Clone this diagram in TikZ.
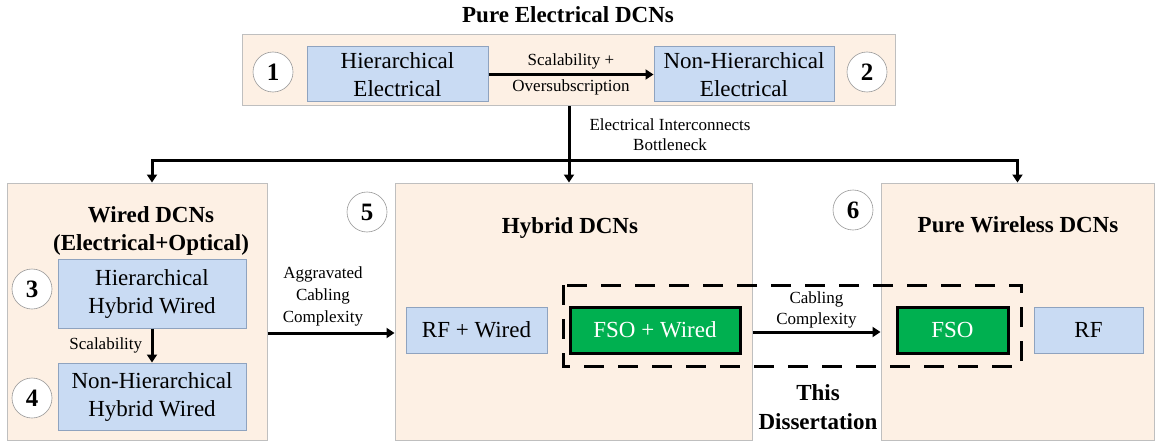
\documentclass[tikz,border=0pt]{standalone}
\usepackage{fontspec}
\setmainfont{Liberation Serif}
\usepackage{xcolor}
\usepackage{tikz}
\usetikzlibrary{arrows.meta,positioning,calc}
\definecolor{panelfill}{HTML}{FDF0E4}
\definecolor{panelline}{HTML}{BFBFBF}
\definecolor{boxfill}{HTML}{C9DBF3}
\definecolor{boxline}{HTML}{8FA3BF}
\definecolor{fsogreen}{HTML}{00B050}
\tikzset{
  dcn panel/.style={rectangle,draw=panelline,fill=panelfill,line width=1pt,inner sep=0pt},
  dcn box/.style={rectangle,draw=boxline,fill=boxfill,line width=1pt,inner sep=0pt,align=center,font=\fontsize{23}{28}\selectfont},
  dcn fso/.style={dcn box,draw=black,fill=fsogreen,line width=3pt,text=white},
  dcn num/.style={circle,draw=black!40,fill=white,line width=0.6pt,minimum size=40pt,inner sep=0pt,font=\bfseries\fontsize{25}{28}\selectfont},
  dcn title/.style={align=center,font=\bfseries\fontsize{23}{28}\selectfont},
  dcn label/.style={align=center,font=\fontsize{17}{21}\selectfont},
  dcn arrow/.style={-{Triangle[length=8pt,width=10pt]},line width=3pt},
  dcn line/.style={line width=3pt},
  dcn focus/.style={dash pattern=on 20pt off 14pt,line width=3pt}
}

\begin{document}
\begin{tikzpicture}[x=1pt,y=-1pt]
  \useasboundingbox (0,0) rectangle (1155,441);
  % panels
  \node[dcn panel,minimum width=653pt,minimum height=71pt] (pel) at (568.5,70.5) {};
  \node[dcn panel,minimum width=260pt,minimum height=257pt] (wired) at (137,311.5) {};
  \node[dcn panel,minimum width=357pt,minimum height=257pt] (hybrid) at (573.5,311.5) {};
  \node[dcn panel,minimum width=273pt,minimum height=257pt] (wless) at (1017.5,311.5) {};
  \node[dcn title] at (568,15) {Pure Electrical DCNs};
  \node[dcn title] at (151,231) {Wired DCNs\\(Electrical+Optical)};
  \node[dcn title] at (570,228) {Hybrid DCNs};
  \node[dcn title] at (1018,225) {Pure Wireless DCNs};
  % boxes
  \node[dcn box,minimum width=181pt,minimum height=55pt] (he) at (397.5,74.5) {Hierarchical\\Electrical};
  \node[dcn box,minimum width=180pt,minimum height=55pt] (nhe) at (744,74.5) {Non-Hierarchical\\Electrical};
  \node[dcn box,minimum width=188pt,minimum height=69pt] (hhw) at (152,293.5) {Hierarchical\\Hybrid Wired};
  \node[dcn box,minimum width=188pt,minimum height=67pt] (nhhw) at (152,396.5) {Non-Hierarchical\\Hybrid Wired};
  \node[dcn box,minimum width=141pt,minimum height=46pt] (rfw) at (476.5,330) {RF + Wired};
  \node[dcn fso,minimum width=170pt,minimum height=46pt] (fsow) at (655,330) {FSO + Wired};
  \node[dcn fso,minimum width=111pt,minimum height=46pt] (fso) at (952.5,330) {FSO};
  \node[dcn box,minimum width=109pt,minimum height=46pt] (rf) at (1088.5,330) {RF};
  \foreach \n/\x/\y in {1/273/72, 2/867/72, 3/32/289, 4/32/398, 5/367/212, 6/853/210}{\node[dcn num] (num\n) at (\x,\y) {\n};}
  % connectors
  \draw[dcn arrow] (he) -- (nhe) node[midway,dcn label,font=\fontsize{17}{26}\selectfont] {Scalability +\\Oversubscription};
  \coordinate (split) at (569,160);
  \draw[dcn line] (pel.south -| split) -- (split);
  \draw[dcn arrow] (split) -| (wired.north -| hhw.north);
  \draw[dcn arrow] (split) -- (hybrid.north -| split);
  \draw[dcn arrow] (split) -| (wless.north);
  \node[dcn label,font=\fontsize{17}{20}\selectfont] (bneck) at (670,135) {Electrical Interconnects\\Bottleneck};
  \draw[dcn arrow] (hhw) -- (nhhw) node[midway,left=5pt,dcn label] {Scalability};
  \draw[dcn arrow] (wired.east |- 0,333) -- (hybrid.west |- 0,333);
  \node[dcn label,font=\fontsize{17}{22}\selectfont] (aggr) at (323,296) {Aggravated\\Cabling\\Complexity};
  \draw[dcn arrow] (hybrid.east |- 0,332) -- (wless.west |- 0,332) node[midway,above=-1pt,dcn label] {Cabling\\Complexity};
  \draw[dcn focus] (563,285) rectangle (1021,366);
  \node[dcn title,font=\bfseries\fontsize{23}{29}\selectfont] (thesis) at (818,407.5) {This\\Dissertation};
\end{tikzpicture}
\end{document}
